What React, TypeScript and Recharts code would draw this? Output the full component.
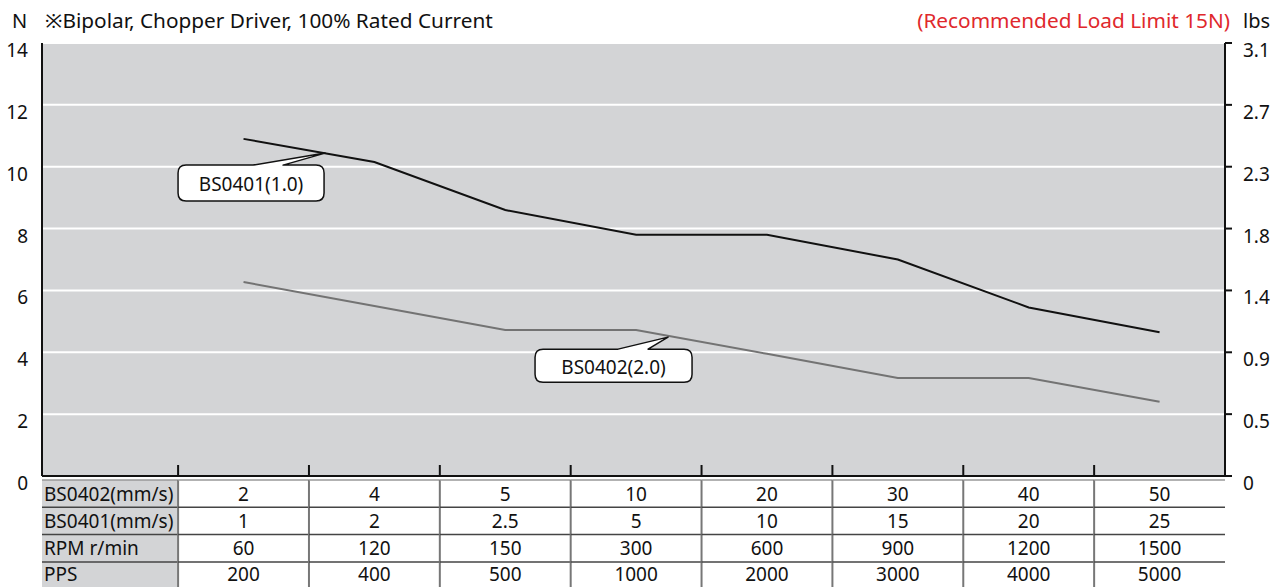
import React from 'react';
import {
  LineChart,
  Line,
  XAxis,
  YAxis,
  CartesianGrid,
  ReferenceDot,
} from 'recharts';

// thrust (N) read at each speed step
const bs0401N = [10.9, 10.15, 8.6, 7.8, 7.8, 7.0, 5.45, 4.65];
const bs0402N = [6.27, 5.5, 4.72, 4.72, 3.95, 3.17, 3.17, 2.4];

// table rows under the plot
const rowLabels = ['BS0402(mm/s)', 'BS0401(mm/s)', 'RPM r/min', 'PPS'];
const bs0402Speed = ['2', '4', '5', '10', '20', '30', '40', '50'];
const bs0401Speed = ['1', '2', '2.5', '5', '10', '15', '20', '25'];
const rpm = ['60', '120', '150', '300', '600', '900', '1200', '1500'];
const pps = ['200', '400', '500', '1000', '2000', '3000', '4000', '5000'];
const tableRows = [bs0402Speed, bs0401Speed, rpm, pps];

const nTicks = [0, 2, 4, 6, 8, 10, 12, 14];
const lbsTicks = ['0', '0.5', '0.9', '1.4', '1.8', '2.3', '2.7', '3.1'];

const data = pps.map((_, i) => ({
  x: i + 0.5,
  bs0401: bs0401N[i],
  bs0402: bs0402N[i],
}));

const W = 1273;
const H = 587;
const LEFT = 42;
const RIGHT = 48;
const LABEL_SPAN = 1.04;
const BAND = (W - LEFT - RIGHT) / (8 + LABEL_SPAN);
const ROW_H = 27.3;
const FONT = '"Noto Sans", "Open Sans", sans-serif';

const xTicks = [-LABEL_SPAN / 2, ...pps.map((_, i) => i + 0.5)];

// last row sits at the page edge; nudge its text up a touch
const textY = (top: number, r: number) => top + r * ROW_H + ROW_H / 2 - (r === 3 ? 2 : 0);

function TableTick(props: any) {
  const { x, y, payload } = props;
  const v = payload.value;
  const top = y + 4;
  if (v < 0) {
    const right = LEFT + LABEL_SPAN * BAND;
    return (
      <g>
        <rect x={LEFT} y={top} width={right - LEFT} height={H - top} fill="#d3d4d6" />
        {rowLabels.map((lab, r) => (
          <g key={lab}>
            <line x1={LEFT} x2={right} y1={top + r * ROW_H} y2={top + r * ROW_H}
              stroke={r === 0 ? '#999' : '#444'} strokeWidth={1.5} />
            <text x={LEFT + 2} y={textY(top, r)} dominantBaseline="central"
              fontSize={19} fontFamily={FONT} fill="#111">{lab}</text>
          </g>
        ))}
      </g>
    );
  }
  const col = Math.round(v - 0.5);
  const left = x - BAND / 2;
  const right = x + BAND / 2;
  return (
    <g>
      <line x1={left} x2={left} y1={y - 11} y2={y} stroke="#111" strokeWidth={2} />
      <line x1={left} x2={left} y1={top} y2={H} stroke="#777" strokeWidth={2} />
      {tableRows.map((row, r) => (
        <g key={r}>
          <line x1={left} x2={right} y1={top + r * ROW_H} y2={top + r * ROW_H}
            stroke={r === 0 ? '#999' : '#444'} strokeWidth={1.5} />
          <text x={x} y={textY(top, r)} textAnchor="middle" dominantBaseline="central"
            fontSize={19} fontFamily={FONT} fill="#111">{row[col]}</text>
        </g>
      ))}
    </g>
  );
}

function LeftTick(props: any) {
  const { x, y, payload } = props;
  return (
    <text x={x} y={y + 7} textAnchor="end" dominantBaseline="central"
      fontSize={19} fontFamily={FONT} fill="#111">{payload.value}</text>
  );
}

function RightTick(props: any) {
  const { x, y, payload } = props;
  const i = nTicks.indexOf(Number(payload.value));
  return (
    <text x={x} y={y + 7} textAnchor="start" dominantBaseline="central"
      fontSize={19} fontFamily={FONT} fill="#111">{lbsTicks[i]}</text>
  );
}

function callout(text: string, l: number, r: number, t: number, b: number, p1: number, p2: number) {
  return (props: any) => {
    const { cx, cy } = props;
    const L = cx + l, R = cx + r, T = cy + t, B = cy + b, k = 8;
    const d = `M ${L + k} ${T} L ${cx + p1} ${T} L ${cx} ${cy} L ${cx + p2} ${T} L ${R - k} ${T}
      Q ${R} ${T} ${R} ${T + k} L ${R} ${B - k} Q ${R} ${B} ${R - k} ${B} L ${L + k} ${B}
      Q ${L} ${B} ${L} ${B - k} L ${L} ${T + k} Q ${L} ${T} ${L + k} ${T} Z`;
    return (
      <g>
        <path d={d} fill="#fff" stroke="#111" strokeWidth={1.5} strokeLinejoin="round" />
        <text x={(L + R) / 2} y={(T + B) / 2 + 1} textAnchor="middle" dominantBaseline="central"
          fontSize={19} fontFamily={FONT} fill="#111">{text}</text>
      </g>
    );
  };
}

export default function App() {
  return (
    <div style={{ position: 'absolute', left: 0, top: 0, width: W, height: H, background: '#fff' }}>
      <LineChart width={W} height={H} data={data} margin={{ top: 43, right: 0, bottom: 0, left: 0 }}>
        <CartesianGrid vertical={false} stroke="#fff" strokeWidth={2} fill="#d3d4d6" yAxisId="left" />
        <XAxis
          dataKey="x"
          type="number"
          domain={[-LABEL_SPAN, 8]}
          ticks={xTicks}
          interval={0}
          height={H - 476}
          axisLine={{ stroke: '#111', strokeWidth: 2 }}
          tickLine={false}
          tickSize={0}
          tickMargin={0}
          tick={<TableTick />}
        />
        <YAxis
          yAxisId="left"
          width={LEFT}
          domain={[0, 14]}
          ticks={nTicks}
          interval={0}
          axisLine={{ stroke: '#111', strokeWidth: 2 }}
          tickLine={false}
          tickSize={6}
          tickMargin={8}
          tick={<LeftTick />}
        />
        <YAxis
          yAxisId="right"
          orientation="right"
          width={RIGHT}
          type="number"
          domain={[0, 14]}
          allowDataOverflow
          ticks={nTicks}
          interval={0}
          axisLine={{ stroke: '#111', strokeWidth: 2 }}
          tickLine={{ stroke: '#111', strokeWidth: 2 }}
          tickSize={7}
          tickMargin={11}
          tick={<RightTick />}
        />
        {/* both axes share the 0–14 N scale; right one is labelled in lbs */}
        <Line yAxisId="right" type="linear" dataKey="bs0402" stroke="#737373" strokeWidth={2}
          dot={false} isAnimationActive={false} />
        <Line yAxisId="left" type="linear" dataKey="bs0401" stroke="#111" strokeWidth={2}
          dot={false} isAnimationActive={false} />
        <ReferenceDot yAxisId="left" x={1.123} y={10.44} ifOverflow="visible"
          shape={callout('BS0401(1.0)', -147, -1, 12, 48, -72, -42)} />
        <ReferenceDot yAxisId="left" x={3.744} y={4.49} ifOverflow="visible"
          shape={callout('BS0402(2.0)', -133, 24, 12, 45, -50, -20)} />
      </LineChart>
      <svg width={W} height={40} style={{ position: 'absolute', left: 0, top: 0, pointerEvents: 'none' }}>
        <text x={12} y={28} fontSize={20} fontFamily={FONT} fill="#111">N</text>
        <text x={45} y={28} fontSize={20.8} fontFamily={FONT} fill="#111">※Bipolar, Chopper Driver, 100% Rated Current</text>
        <text x={1230} y={28} textAnchor="end" fontSize={20.8} fontFamily={FONT} fill="#e0282c">(Recommended Load Limit 15N)</text>
        <text x={1243} y={28} fontSize={20} fontFamily={FONT} fill="#111">lbs</text>
      </svg>
    </div>
  );
}
